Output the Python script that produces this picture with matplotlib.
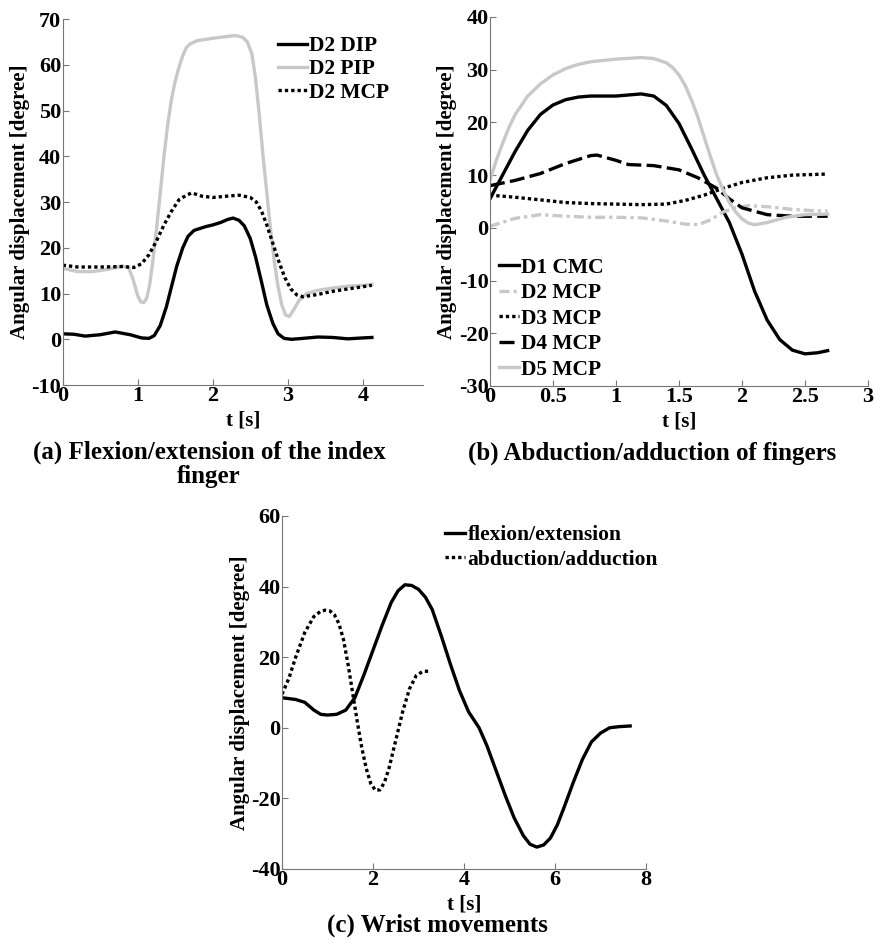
import matplotlib
matplotlib.use("Agg")
import matplotlib.pyplot as plt

plt.rcParams["font.family"] = ["Liberation Serif", "DejaVu Serif"]
plt.rcParams["font.weight"] = "bold"
plt.rcParams["axes.unicode_minus"] = False

BLACK = "#000000"
GREY = "#c8c8c8"
AXIS_GREY = "#777777"
TICK_SIZE = 16
LABEL_SIZE = 15
LEGEND_SIZE = 15.5
CAPTION_SIZE = 18
LW = 2.4

# (a) flexion/extension of the index finger
a_dip_t = [0, 0.15, 0.3, 0.5, 0.7, 0.9, 1.05, 1.15, 1.22, 1.3, 1.38, 1.45, 1.52, 1.6, 1.67,
           1.75, 1.9, 2.0, 2.1, 2.2, 2.27, 2.35, 2.42, 2.5, 2.57, 2.65, 2.72, 2.8, 2.87,
           2.95, 3.05, 3.2, 3.4, 3.6, 3.8, 4.0, 4.12]
a_dip = [1.2, 1.1, 0.7, 1.0, 1.6, 1.0, 0.3, 0.2, 0.8, 3, 7, 11.5, 16, 20, 22.5,
         23.8, 24.6, 25, 25.5, 26.2, 26.5, 26, 24.8, 22, 18, 12.5, 7.5, 3.5, 1.2,
         0.2, 0, 0.2, 0.5, 0.4, 0.1, 0.3, 0.4]
a_pip_t = [0, 0.2, 0.4, 0.6, 0.8, 0.88, 0.94, 1.0, 1.04, 1.08, 1.12, 1.16, 1.2, 1.25, 1.3,
           1.35, 1.4, 1.45, 1.5, 1.55, 1.6, 1.65, 1.7, 1.8, 2.0, 2.2, 2.3, 2.4, 2.46,
           2.52, 2.57, 2.62, 2.67, 2.72, 2.77, 2.82, 2.87, 2.92, 2.97, 3.02, 3.08, 3.15,
           3.25, 3.4, 3.6, 3.8, 4.0, 4.12]
a_pip = [15.5, 14.8, 14.8, 15.3, 16, 15.6, 13, 9.5, 8.2, 8, 9, 12, 17, 24, 32,
         40, 47, 52.5, 56.5, 59.5, 62, 63.8, 64.6, 65.3, 65.8, 66.2, 66.4, 66, 65,
         62.5, 57, 49, 40, 32, 24, 17, 11.5, 7.5, 5.3, 5, 6.5, 8.5,
         10, 10.7, 11.2, 11.6, 11.8, 12]
a_mcp_t = [0, 0.2, 0.5, 0.8, 0.95, 1.05, 1.15, 1.25, 1.35, 1.45, 1.55, 1.65, 1.72, 1.85,
           2.0, 2.2, 2.35, 2.5, 2.58, 2.65, 2.72, 2.8, 2.88, 2.96, 3.04, 3.12, 3.2,
           3.4, 3.6, 3.8, 4.0, 4.12]
a_mcp = [16.2, 15.8, 15.8, 15.9, 15.7, 16.5, 18.5, 21.5, 25, 28, 30.5, 31.5, 32, 31.3,
         31, 31.3, 31.5, 31, 30, 28, 25, 21, 17, 13.5, 11, 9.7, 9.3,
         9.8, 10.5, 11, 11.5, 11.8]

# (b) abduction/adduction of fingers
b_cmc_t = [0, 0.1, 0.2, 0.3, 0.4, 0.5, 0.6, 0.7, 0.8, 1.0, 1.1, 1.2, 1.3, 1.4, 1.5, 1.6,
           1.7, 1.8, 1.9, 2.0, 2.1, 2.2, 2.3, 2.4, 2.5, 2.6, 2.68]
b_cmc = [5.5, 10, 14.5, 18.5, 21.5, 23.3, 24.3, 24.8, 25, 25, 25.2, 25.4, 25, 23.2, 19.8, 15,
         10, 5.5, 1, -5, -12, -17.5, -21.2, -23.2, -23.9, -23.7, -23.3]
b_d2_t = [0, 0.2, 0.4, 0.6, 0.8, 1.0, 1.2, 1.4, 1.55, 1.65, 1.75, 1.85, 1.95, 2.05, 2.2,
          2.4, 2.6, 2.68]
b_d2 = [0.3, 1.8, 2.5, 2.2, 2.0, 2.0, 1.9, 1.3, 0.7, 0.6, 1.5, 3, 3.8, 4.2, 4.0,
        3.5, 3.2, 3.2]
b_d3_t = [0, 0.2, 0.4, 0.6, 0.8, 1.0, 1.2, 1.4, 1.55, 1.7, 1.85, 2.0, 2.2, 2.4, 2.68]
b_d3 = [6.2, 5.8, 5.3, 4.8, 4.6, 4.5, 4.4, 4.5, 5.2, 6.2, 7.5, 8.6, 9.5, 10, 10.2]
b_d4_t = [0, 0.2, 0.4, 0.6, 0.8, 0.85, 1.0, 1.1, 1.3, 1.5, 1.65, 1.8, 1.9, 2.0, 2.2, 2.4, 2.68]
b_d4 = [8, 9, 10.3, 12.2, 13.7, 13.8, 12.8, 12, 11.8, 11, 9.5, 7.5, 5.5, 3.8, 2.5, 2.2, 2.2]
b_d5_t = [0, 0.05, 0.1, 0.15, 0.2, 0.3, 0.4, 0.5, 0.6, 0.7, 0.8, 1.0, 1.2, 1.3, 1.4, 1.45,
          1.5, 1.55, 1.6, 1.65, 1.7, 1.75, 1.8, 1.85, 1.9, 1.95, 2.0, 2.05, 2.1, 2.2,
          2.35, 2.5, 2.68]
b_d5 = [9, 12.8, 16, 19, 21.5, 25, 27.3, 29, 30.2, 31, 31.5, 32, 32.3, 32.1, 31.3, 30.4,
        29, 27, 24.2, 21, 17.2, 13.5, 10, 7.2, 4.8, 3, 1.7, 0.9, 0.6, 1,
        2, 2.5, 2.6]

# (c) wrist movements
c_flex_t = [0, 0.3, 0.5, 0.7, 0.85, 1.0, 1.2, 1.4, 1.6, 1.8, 2.0, 2.2, 2.4, 2.55, 2.7, 2.85,
            3.0, 3.15, 3.3, 3.5, 3.7, 3.9, 4.1, 4.33, 4.5, 4.7, 4.9, 5.1, 5.3, 5.45, 5.6,
            5.75, 5.9, 6.05, 6.2, 6.4, 6.6, 6.8, 7.0, 7.2, 7.4, 7.65]
c_flex = [8.5, 8, 7.2, 5, 3.8, 3.6, 3.8, 5, 8.5, 15, 22, 29, 35.5, 38.8, 40.5, 40.3,
          39.2, 37, 33.5, 26, 18, 10.5, 4.5, 0, -5, -12, -19, -25.5, -30.5, -33, -33.8,
          -33.2, -31.2, -27.5, -22.5, -15.5, -9, -4, -1.5, 0, 0.3, 0.5]
c_abd_t = [0, 0.15, 0.3, 0.5, 0.7, 0.85, 0.95, 1.05, 1.15, 1.25, 1.35, 1.45, 1.55, 1.65,
           1.75, 1.85, 1.95, 2.05, 2.15, 2.25, 2.35, 2.5, 2.65, 2.8, 2.95, 3.1, 3.25]
c_abd = [9.5, 14, 20, 27, 31.5, 33, 33.3, 33.1, 32, 29.5, 25, 18, 10, 2,
         -5.5, -11.5, -15.8, -17.7, -17.6, -15.5, -11.5, -3.5, 4.5, 11, 14.8, 16, 16]

a_xticks = [0, 1, 2, 3, 4]
a_yticks = [-10, 0, 10, 20, 30, 40, 50, 60, 70]
b_xticks = [0, 0.5, 1, 1.5, 2, 2.5, 3]
b_xticklabels = ["0", "0.5", "1", "1.5", "2", "2.5", "3"]
b_yticks = [-30, -20, -10, 0, 10, 20, 30, 40]
c_xticks = [0, 2, 4, 6, 8]
c_yticks = [-40, -20, 0, 20, 40, 60]

DOT = (0, (1.0, 0.9))
DASH = (0, (4.5, 1.6))
DASHDOT = (0, (3.0, 1.2, 1.0, 1.2))


def style_axes(ax, xlim, ylim, xticks, yticks, xticklabels=None):
    ax.set_xlim(*xlim)
    ax.set_ylim(*ylim)
    ax.set_xticks(xticks)
    ax.set_yticks(yticks)
    if xticklabels is None:
        xticklabels = [str(v) for v in xticks]
    ax.set_xticklabels(xticklabels, fontweight="bold", fontsize=TICK_SIZE)
    ax.set_yticklabels([str(v) for v in yticks], fontweight="bold", fontsize=TICK_SIZE)
    for side in ["top", "right"]:
        ax.spines[side].set_visible(False)
    for side in ["left", "bottom"]:
        ax.spines[side].set_color(AXIS_GREY)
        ax.spines[side].set_linewidth(0.8)
    ax.tick_params(direction="in", length=4, width=0.8, color=AXIS_GREY, pad=1)
    ax.set_xlabel("t [s]", fontsize=LABEL_SIZE, fontweight="bold", labelpad=3)
    ax.set_ylabel("Angular displacement [degree]", fontsize=LABEL_SIZE,
                  fontweight="bold", labelpad=1)


fig = plt.figure(figsize=(8.74, 9.47), dpi=100)
leg_kw = dict(frameon=False, handletextpad=0.1, borderaxespad=0,
              prop={"weight": "bold", "size": LEGEND_SIZE})

ax_a = fig.add_axes([0.0717, 0.5934, 0.4122, 0.3865])
ax_a.plot(a_dip_t, a_dip, color=BLACK, lw=LW, label="D2 DIP")
ax_a.plot(a_pip_t, a_pip, color=GREY, lw=LW, label="D2 PIP")
ax_a.plot(a_mcp_t, a_mcp, color=BLACK, lw=LW, linestyle=DOT, label="D2 MCP")
style_axes(ax_a, (0, 4.8), (-10, 70), a_xticks, a_yticks)
ax_a.legend(loc="upper left", bbox_to_anchor=(0.573, 0.977), labelspacing=0.15,
            handlelength=1.35, **leg_kw)

ax_b = fig.add_axes([0.5606, 0.5924, 0.4325, 0.3897])
ax_b.plot(b_cmc_t, b_cmc, color=BLACK, lw=LW, label="D1 CMC")
ax_b.plot(b_d2_t, b_d2, color=GREY, lw=LW, linestyle=DASHDOT, label="D2 MCP")
ax_b.plot(b_d3_t, b_d3, color=BLACK, lw=LW, linestyle=DOT, label="D3 MCP")
ax_b.plot(b_d4_t, b_d4, color=BLACK, lw=LW, linestyle=DASH, label="D4 MCP")
ax_b.plot(b_d5_t, b_d5, color=GREY, lw=LW, label="D5 MCP")
style_axes(ax_b, (0, 3), (-30, 40), b_xticks, b_yticks, b_xticklabels)
ax_b.legend(loc="lower left", bbox_to_anchor=(0.0, -0.006), labelspacing=0.25,
            handlelength=0.95, **leg_kw)

ax_c = fig.add_axes([0.3227, 0.0824, 0.4165, 0.3728])
ax_c.plot(c_flex_t, c_flex, color=BLACK, lw=LW, label="flexion/extension")
ax_c.plot(c_abd_t, c_abd, color=BLACK, lw=LW, linestyle=DOT, label="abduction/adduction")
style_axes(ax_c, (0, 8), (-40, 60), c_xticks, c_yticks)
ax_c.legend(loc="upper left", bbox_to_anchor=(0.424, 0.998), labelspacing=0.2,
            handlelength=0.95, **leg_kw)

fig.text(209 / 874, 1 - 464 / 947, "(a) Flexion/extension of the index\nfinger",
         ha="center", va="center", fontsize=CAPTION_SIZE, fontweight="bold",
         linespacing=1.05)
fig.text(652 / 874, 1 - 453 / 947, "(b) Abduction/adduction of fingers",
         ha="center", va="center", fontsize=CAPTION_SIZE, fontweight="bold")
fig.text(437 / 874, 1 - 925 / 947, "(c) Wrist movements",
         ha="center", va="center", fontsize=CAPTION_SIZE, fontweight="bold")

fig.savefig("out.png", dpi=100)
